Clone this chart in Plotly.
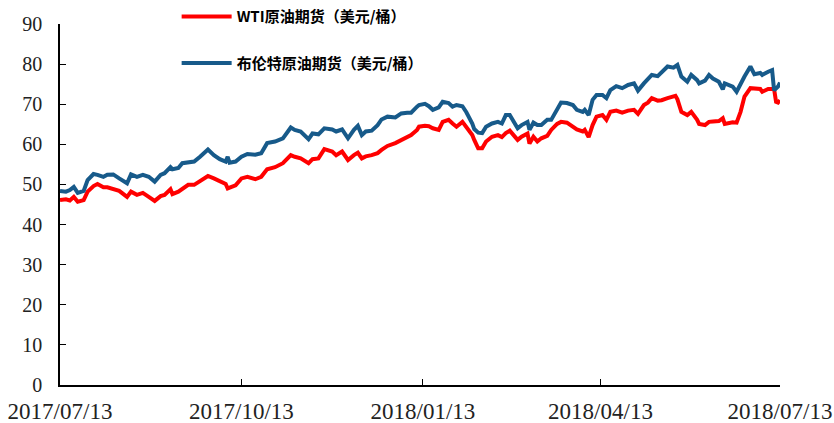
import plotly.graph_objects as go

dates = [
    "2017-07-13", "2017-07-16", "2017-07-18", "2017-07-20", "2017-07-22", "2017-07-25",
    "2017-07-27", "2017-07-30", "2017-08-01", "2017-08-04", "2017-08-06", "2017-08-09",
    "2017-08-12", "2017-08-16", "2017-08-18", "2017-08-21", "2017-08-24", "2017-08-27",
    "2017-08-30", "2017-09-02", "2017-09-04", "2017-09-07", "2017-09-08", "2017-09-11",
    "2017-09-13", "2017-09-16", "2017-09-19", "2017-09-22", "2017-09-26", "2017-09-29",
    "2017-10-02", "2017-10-05", "2017-10-06", "2017-10-07", "2017-10-10", "2017-10-13",
    "2017-10-16", "2017-10-20", "2017-10-23", "2017-10-26", "2017-10-30", "2017-11-03",
    "2017-11-07", "2017-11-09", "2017-11-12", "2017-11-16", "2017-11-18", "2017-11-21",
    "2017-11-24", "2017-11-28", "2017-11-30", "2017-12-03", "2017-12-06", "2017-12-09",
    "2017-12-11", "2017-12-13", "2017-12-15", "2017-12-18", "2017-12-21", "2017-12-23",
    "2017-12-26", "2017-12-30", "2018-01-02", "2018-01-05", "2018-01-07", "2018-01-10",
    "2018-01-11", "2018-01-14", "2018-01-16", "2018-01-18", "2018-01-21", "2018-01-23",
    "2018-01-26", "2018-01-28", "2018-01-30", "2018-02-02", "2018-02-04", "2018-02-07",
    "2018-02-08", "2018-02-10", "2018-02-12", "2018-02-14", "2018-02-17", "2018-02-20",
    "2018-02-22", "2018-02-24", "2018-02-26", "2018-03-02", "2018-03-04", "2018-03-07",
    "2018-03-08", "2018-03-10", "2018-03-12", "2018-03-14", "2018-03-17", "2018-03-19",
    "2018-03-22", "2018-03-24", "2018-03-27", "2018-03-30", "2018-04-01", "2018-04-04",
    "2018-04-05", "2018-04-07", "2018-04-09", "2018-04-11", "2018-04-14", "2018-04-16",
    "2018-04-18", "2018-04-21", "2018-04-24", "2018-04-27", "2018-04-30", "2018-05-02",
    "2018-05-05", "2018-05-07", "2018-05-09", "2018-05-12", "2018-05-14", "2018-05-17",
    "2018-05-20", "2018-05-21", "2018-05-22", "2018-05-24", "2018-05-27", "2018-05-29",
    "2018-06-01", "2018-06-02", "2018-06-05", "2018-06-07", "2018-06-09", "2018-06-12",
    "2018-06-14", "2018-06-15", "2018-06-19", "2018-06-21", "2018-06-23", "2018-06-25",
    "2018-06-28", "2018-06-30", "2018-07-03", "2018-07-04", "2018-07-07", "2018-07-09",
    "2018-07-10", "2018-07-11", "2018-07-12", "2018-07-13",
]

wti = [
    46.1, 46.3, 46.0, 46.9, 45.7, 46.1,
    48.2, 49.6, 50.1, 49.3, 49.3, 48.8,
    48.4, 46.9, 48.2, 47.4, 47.9, 46.9,
    45.9, 47.1, 47.4, 48.8, 47.6, 48.2,
    49.0, 49.9, 49.9, 50.9, 52.1, 51.5,
    50.7, 50.1, 49.0, 49.2, 49.8, 51.5,
    51.9, 51.3, 51.9, 53.8, 54.3, 55.3,
    57.3, 56.9, 56.5, 55.3, 56.3, 56.5,
    58.8, 58.2, 57.3, 58.2, 56.1, 57.3,
    57.9, 56.5, 57.0, 57.3, 57.8, 58.6,
    59.6, 60.3, 61.1, 61.8, 62.3, 63.6,
    64.4, 64.6, 64.5, 64.0, 63.6, 65.6,
    66.1, 65.2, 64.4, 65.6, 64.4, 62.3,
    61.1, 59.0, 59.0, 60.7, 61.9, 62.3,
    61.8, 62.8, 63.4, 61.1, 61.9, 62.7,
    60.2, 61.9, 60.7, 61.5, 62.1, 63.6,
    65.1, 65.6, 65.4, 64.4, 63.7, 63.2,
    63.6, 61.8, 64.8, 66.9, 67.3, 66.1,
    68.1, 68.4, 67.9, 68.4, 68.6, 67.6,
    69.8, 70.4, 71.5, 70.9, 71.0, 71.5,
    71.8, 72.1, 71.2, 68.1, 67.3, 68.1,
    66.1, 65.1, 64.8, 65.6, 65.7, 65.8,
    66.5, 65.1, 65.5, 65.4, 68.1, 71.9,
    74.0, 74.0, 73.8, 73.1, 73.8, 73.8,
    73.8, 70.6, 70.4, 71.0,
]

brent = [
    48.4, 48.2, 48.6, 49.4, 47.9, 48.4,
    51.1, 52.6, 52.4, 51.9, 52.4, 52.5,
    51.5, 50.3, 52.5, 51.9, 52.4, 51.9,
    50.7, 52.4, 52.8, 54.3, 53.8, 54.1,
    55.3, 55.4, 55.7, 56.9, 58.7, 57.3,
    56.3, 55.7, 56.9, 55.4, 55.7, 56.9,
    57.6, 57.4, 57.8, 60.3, 60.7, 61.5,
    64.2, 63.6, 63.2, 61.3, 62.7, 62.5,
    64.0, 63.7, 63.2, 63.7, 61.5, 63.6,
    64.6, 62.3, 63.2, 63.4, 64.8, 66.2,
    66.9, 66.7, 67.7, 67.9, 67.9, 69.4,
    69.8, 70.1, 69.5, 68.6, 69.2, 70.6,
    70.3, 69.4, 69.8, 69.5, 68.0, 65.2,
    63.8, 62.9, 62.8, 64.4, 65.2, 65.6,
    65.2, 67.3, 67.3, 64.0, 64.8, 65.6,
    63.6, 65.4, 64.8, 64.8, 66.1, 66.1,
    69.0, 70.4, 70.3, 69.8, 68.6, 68.1,
    68.6, 67.3, 71.1, 72.3, 72.3, 71.5,
    73.5, 74.5, 74.0, 74.8, 75.2, 73.4,
    75.2, 76.2, 77.3, 77.0, 78.1, 79.4,
    79.1, 79.4, 79.8, 76.9, 75.6, 77.3,
    76.0, 75.2, 75.9, 77.3, 76.4, 75.6,
    73.7, 75.2, 74.4, 73.1, 75.2, 76.9,
    79.4, 77.5, 77.8, 77.3, 78.1, 78.5,
    73.5, 74.0, 74.4, 75.4,
]

series_names = ["WTI原油期货（美元/桶）", "布伦特原油期货（美元/桶）"]
x_tick_vals = ["2017-07-13", "2017-10-13", "2018-01-13", "2018-04-13", "2018-07-13"]
x_tick_text = ["2017/07/13", "2017/10/13", "2018/01/13", "2018/04/13", "2018/07/13"]
y_tick_vals = [0, 10, 20, 30, 40, 50, 60, 70, 80, 90]

fig = go.Figure()
fig.add_trace(go.Scatter(
    x=dates, y=wti, mode="lines", name=series_names[0], legendgroup="a",
    line=dict(color="#FF0000", width=4),
))
fig.add_trace(go.Scatter(
    x=dates, y=brent, mode="lines", name=series_names[1], legendgroup="b",
    line=dict(color="#175A8A", width=4),
))

serif = "Liberation Serif, Times New Roman, serif"

fig.update_layout(
    width=834, height=423,
    margin=dict(l=60, r=54, t=24, b=38, autoexpand=False),
    paper_bgcolor="white", plot_bgcolor="white",
    showlegend=True,
    legend=dict(
        x=0.162, y=1.066, xanchor="left", yanchor="top",
        font=dict(family="Noto Sans CJK SC, sans-serif", size=15, color="#000000", weight="bold"),
        tracegroupgap=24, bgcolor="rgba(0,0,0,0)", itemwidth=50,
    ),
    xaxis=dict(
        type="date", range=[x_tick_vals[0], x_tick_vals[-1]],
        tickmode="array", tickvals=x_tick_vals, ticktext=x_tick_text,
        ticks="inside", ticklen=6, tickcolor="#000", tickwidth=1,
        showline=True, linecolor="#000", linewidth=1.5,
        showgrid=False, zeroline=False, automargin=False,
        tickfont=dict(family=serif, size=23, color="#222222"),
        ticklabelstandoff=5,
    ),
    yaxis=dict(
        range=[0, 90], tickmode="array", tickvals=y_tick_vals,
        ticks="inside", ticklen=6, tickcolor="#000", tickwidth=1,
        showline=True, linecolor="#000", linewidth=1.5,
        showgrid=False, zeroline=False, automargin=False,
        tickfont=dict(family=serif, size=20, color="#222222"),
        ticklabelstandoff=12,
    ),
)

fig.write_html(
    "out.html",
    config={"displayModeBar": False},
    post_script="document.body.style.margin='0';",
)
